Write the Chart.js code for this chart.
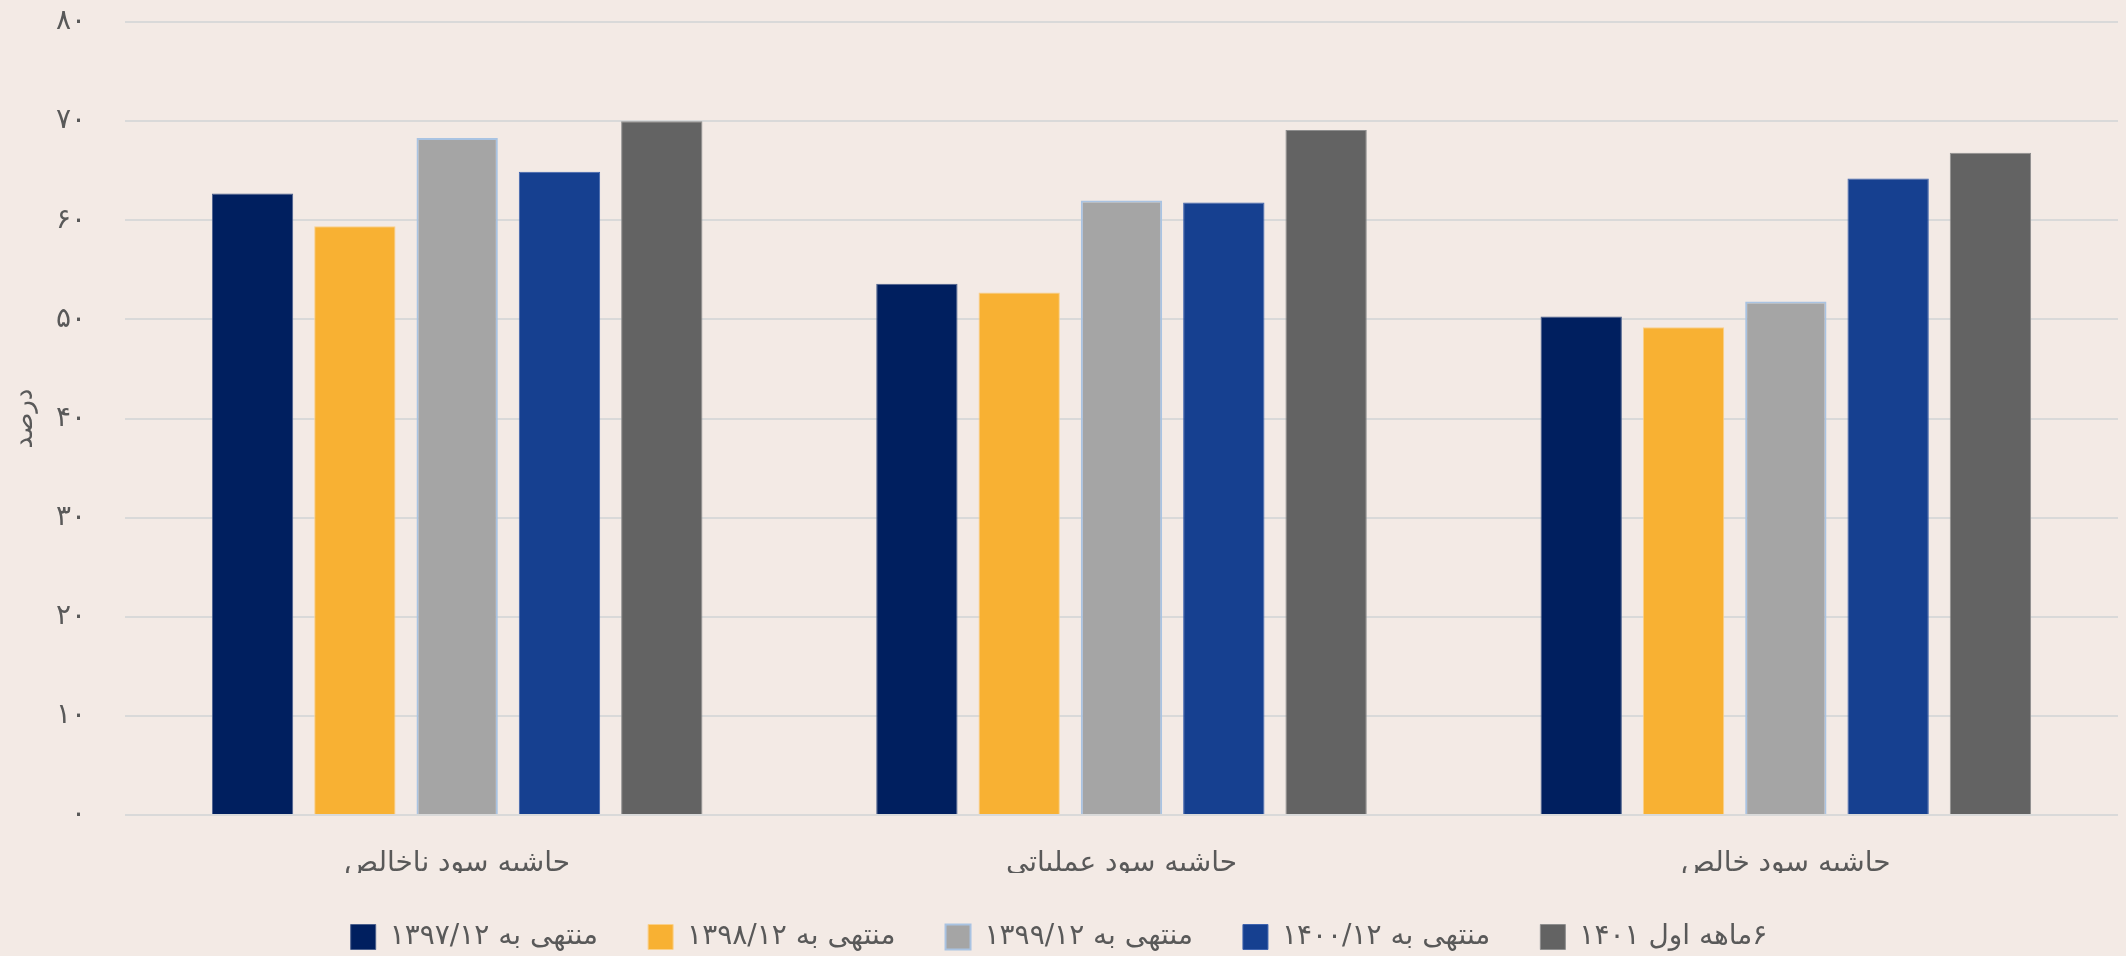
<!DOCTYPE html>
<html>
<head>
<meta charset="utf-8">
<script src="https://cdn.jsdelivr.net/npm/chart.js@4/dist/chart.umd.min.js"></script>
<style>
  html, body { margin: 0; padding: 0; background: #F3EAE5; }
  #wrap { width: 2126px; height: 956px; }
</style>
</head>
<body>
<div id="wrap"><canvas id="marginChart"></canvas></div>
<script>
// categories and series
const categories = ['حاشیه سود ناخالص', 'حاشیه سود عملیاتی', 'حاشیه سود خالص'];
const seriesNames = ['منتهی به ۱۳۹۷/۱۲', 'منتهی به ۱۳۹۸/۱۲', 'منتهی به ۱۳۹۹/۱۲', 'منتهی به ۱۴۰۰/۱۲', '۶ماهه اول ۱۴۰۱'];
const values1397 = [62.7, 53.6, 50.3];
const values1398 = [59.4, 52.7, 49.2];
const values1399 = [68.3, 62.0, 51.8];
const values1400 = [64.9, 61.8, 64.2];
const values1401 = [70.0, 69.1, 66.8];
const yTickLabels = ['۰', '۱۰', '۲۰', '۳۰', '۴۰', '۵۰', '۶۰', '۷۰', '۸۰'];
const yTitle = 'درصد';

const fills = ['#001F5F', '#F8B133', '#A5A5A5', '#164090', '#636363'];
const borders = ['#4A5F8C', '#FAD08A', '#A9C3E2', '#3E63AE', '#8E8E8E'];
const borderWidths = [1, 1, 2, 1, 1];
const allValues = [values1397, values1398, values1399, values1400, values1401];

const font = 'DejaVu Sans';
const textColor = '#595959';

const ctx = document.getElementById('marginChart').getContext('2d');
new Chart(ctx, {
    type: 'bar',
    data: {
        labels: categories,
        datasets: allValues.map((vals, i) => ({
            label: seriesNames[i],
            data: vals,
            backgroundColor: fills[i],
            borderColor: borders[i],
            borderWidth: borderWidths[i],
            categoryPercentage: 0.77,
            barPercentage: 0.795
        }))
    },
    options: {
        responsive: true,
        maintainAspectRatio: false,
        animation: false,
        devicePixelRatio: 1,
        layout: { padding: { top: 22, right: 8, bottom: -5, left: 0 } },
        plugins: {
            legend: {
                position: 'bottom',
                textDirection: 'rtl',
                labels: {
                    boxWidth: 25,
                    boxHeight: 25,
                    padding: 50,
                    color: textColor,
                    font: { family: font, size: 28 }
                }
            },
            tooltip: { enabled: false }
        },
        scales: {
            x: {
                grid: { display: false, drawTicks: false },
                border: { display: false },
                ticks: {
                    color: textColor,
                    padding: 32,
                    font: { family: font, size: 28 }
                },
                afterFit: (scale) => { scale.height = 58; }
            },
            y: {
                min: 0,
                max: 80,
                // gap between labels and plot comes from an invisible tick mark,
                // so the top of the plot is not pushed down by tick padding
                grid: { color: '#D9D9D9', lineWidth: 2, drawTicks: true, tickLength: 35, tickColor: 'rgba(0,0,0,0)' },
                border: { display: false },
                ticks: {
                    stepSize: 10,
                    color: textColor,
                    padding: 4,
                    font: { family: font, size: 28 },
                    callback: (v, i) => yTickLabels[i]
                },
                title: {
                    display: true,
                    text: yTitle,
                    color: textColor,
                    padding: { top: 10, bottom: 0 },
                    font: { family: font, size: 26 }
                },
                afterFit: (scale) => { scale.width = 125; }
            }
        }
    }
});
</script>
</body>
</html>
